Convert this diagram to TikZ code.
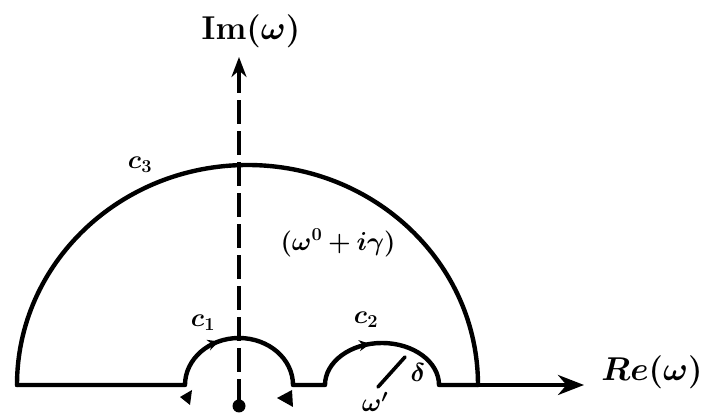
\RequirePackage{fix-cm}
\documentclass[tikz,border=0pt]{standalone}
\usepackage{amsmath,amssymb,bm}
\usetikzlibrary{arrows.meta}
\begin{document}
\begin{tikzpicture}[x=1pt,y=1pt,
  curve/.style={line width=4.4pt,line cap=round,line join=round},
  axisline/.style={line width=4pt},
  lbl/.style={font=\fontsize{26}{30}\selectfont\bfseries,inner sep=0pt},
  biglbl/.style={font=\fontsize{33}{38}\selectfont\bfseries,inner sep=0pt},
  tip/.style={-{Stealth[length=11pt,width=11pt]}}]
\useasboundingbox (0,0) rectangle (713,419);
% key points
\coordinate (L) at (17,34);
\coordinate (A1) at (185,34);
\coordinate (B1) at (293,34);
\coordinate (A2) at (325,34);
\coordinate (B2) at (439,34);
\coordinate (R) at (478,34);
\coordinate (Xend) at (584,34);
\coordinate (Ybot) at (239,16);
\coordinate (Ytop) at (239,362);
\coordinate (rad0) at (378,32);
\coordinate (rad1) at (405,62);
% big contour
\draw[curve] (L) arc[start angle=180,end angle=0,x radius=230.5,y radius=220];
% real axis with indentations
\draw[curve] (L) -- (A1) arc[start angle=180,end angle=0,x radius=54,y radius=47]
  -- (A2) arc[start angle=180,end angle=0,x radius=57,y radius=42] -- (R);
\draw[axisline,-{Stealth[length=26pt,width=20pt]}] (R) -- (Xend);
% imaginary axis
\draw[axisline,dash pattern=on 24pt off 7pt,-{Stealth[length=20pt,width=15pt]}] (Ybot) -- (Ytop);
\node[circle,fill,inner sep=0pt,minimum size=13pt] (pole) at (239,13) {};
% small direction marks
\draw[line width=3pt,tip] (239,34)++(124:54 and 47) arc[start angle=124,end angle=112,x radius=54,y radius=47];
\draw[line width=3pt,tip] (382,34)++(114:57 and 42) arc[start angle=114,end angle=102,x radius=57,y radius=42];
\fill (180,22) -- (192,29) -- (190,14) -- cycle;
\fill (277,21) -- (292,29) -- (293,12) -- cycle;
% radius line
\draw[line width=3.6pt,line cap=round] (rad0) -- (rad1);
% labels
\node[biglbl] (im) at (251,388) {Im($\bm\omega$)};
\node[biglbl] (re) at (652,47) {$\bm{Re}$($\bm\omega$)};
\node[lbl] (c3) at (140,254) {$\bm{c_3}$};
\node[lbl] (c1) at (203,96) {$\bm{c_1}$};
\node[lbl] (c2) at (366,99) {$\bm{c_2}$};
\node[lbl] (pol) at (338,176) {$\bm{(\omega^{0}+i\gamma)}$};
\node[lbl] (del) at (418,47) {$\bm\delta$};
\node[lbl] (wp) at (375,17) {$\bm{\omega'}$};
\end{tikzpicture}
\end{document}
